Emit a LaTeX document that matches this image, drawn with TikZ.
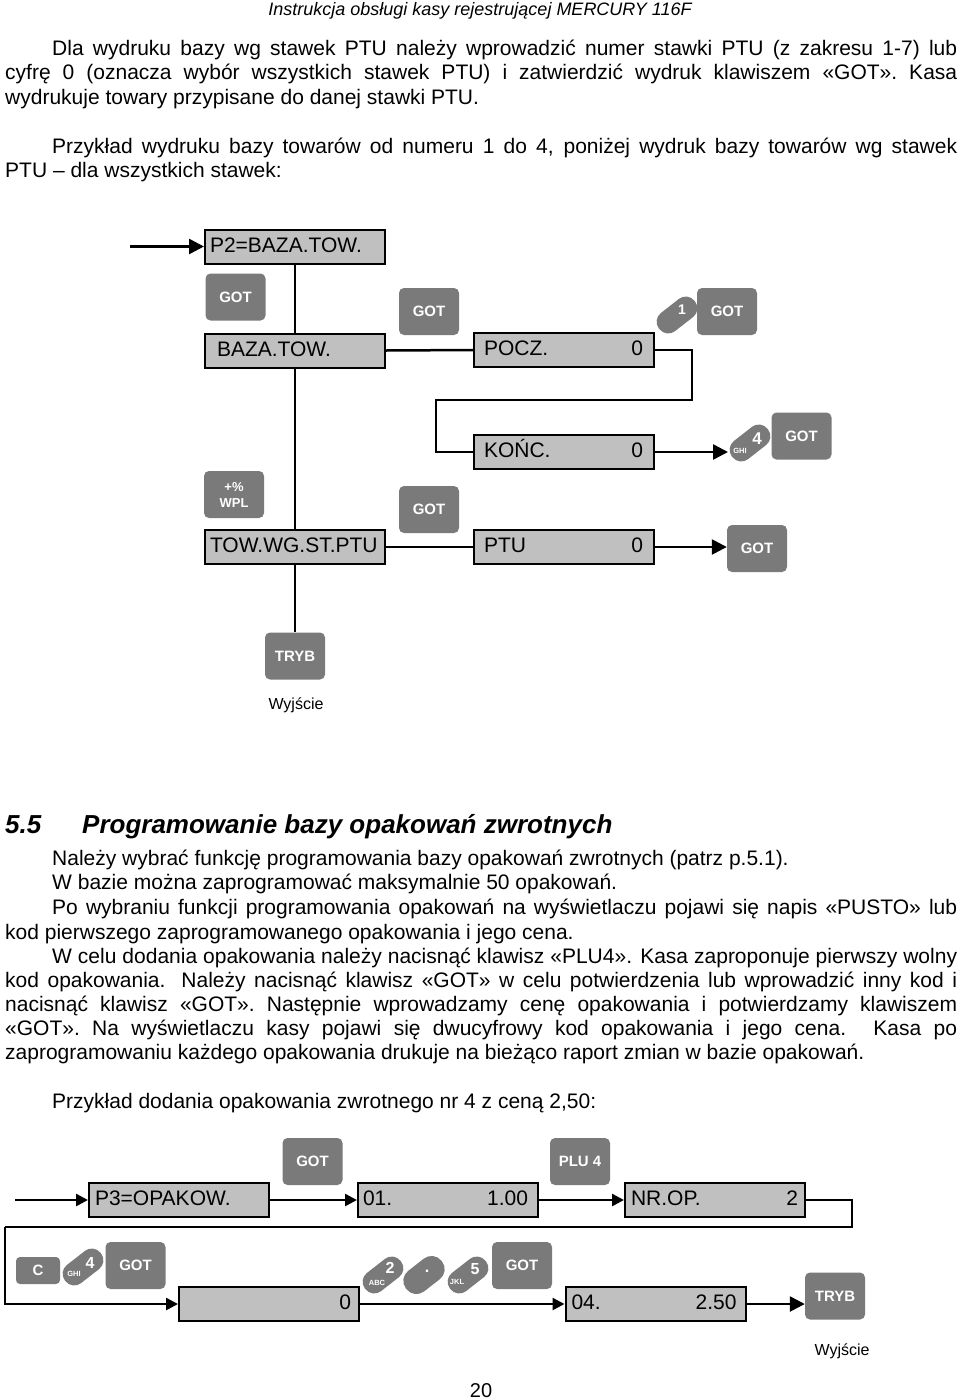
\documentclass[tikz,border=0pt]{standalone}
\usepackage{fontspec}
\setmainfont{Liberation Sans}
\usetikzlibrary{arrows.meta}
\definecolor{keyg}{HTML}{7A7A7A}
\definecolor{dispg}{HTML}{C0C0C0}
\newcommand{\bodyf}{\fontsize{21}{24.5}\selectfont}
\newcommand{\dispf}{\fontsize{21}{24}\selectfont}
\newcommand{\keyf}{\bfseries\fontsize{15}{17}\selectfont}
\newcommand{\jl}[2]{\makebox[#1pt][s]{#2}}
\begin{document}
\begin{tikzpicture}[x=1pt,y=-1pt,
  txt/.style={anchor=base west, inner sep=0pt, font=\bodyf},
  disp/.style={draw=black, line width=2pt, fill=dispg, minimum width=180pt, minimum height=34pt,
    inner sep=0pt, font=\dispf, text height=15pt, text depth=4pt},
  key/.style={fill=keyg, rounded corners=5pt, minimum width=60pt, minimum height=47pt,
    inner sep=0pt, text=white, font=\keyf, align=center},
  pill/.style={fill=keyg, rounded corners=11pt, minimum width=45pt, minimum height=23pt,
    inner sep=0pt, rotate=38},
  pilltxt/.style={text=white, inner sep=0pt, font=\bfseries\fontsize{16}{18}\selectfont},
  pillsub/.style={text=white, inner sep=0pt, font=\bfseries\fontsize{7.5}{9}\selectfont},
  conn/.style={draw=black, line width=2.5pt},
  arr/.style={conn, -{Triangle[length=15pt,width=15pt,fill=black]}},
  arrs/.style={conn, -{Triangle[length=12pt,width=12pt,fill=black]}},
  lbl/.style={inner sep=0pt, font=\fontsize{16}{18}\selectfont}]
\useasboundingbox (0,0) rectangle (960,1400);

% header
\node[anchor=base, inner sep=0pt, font=\itshape\fontsize{18}{20}\selectfont] (hdr) at (480,16) {Instrukcja obsługi kasy rejestrującej MERCURY 116F};

% paragraphs
\node[txt] (p1a) at (52,55) {\jl{905}{Dla wydruku bazy wg stawek PTU należy wprowadzić numer stawki PTU (z zakresu 1-7) lub}};
\node[txt] (p1b) at (5,79) {\jl{952}{cyfrę 0 (oznacza wybór wszystkich stawek PTU) i zatwierdzić wydruk klawiszem «GOT». Kasa}};
\node[txt] (p1c) at (5,104) {wydrukuje towary przypisane do danej stawki PTU.};
\node[txt] (p2a) at (52,153) {\jl{905}{Przykład wydruku bazy towarów od numeru 1 do 4, poniżej wydruk bazy towarów wg stawek}};
\node[txt] (p2b) at (5,177) {PTU – dla wszystkich stawek:};

% ---------- diagram 1 ----------
\node[disp] (P2) at (295,246.5) {\makebox[180pt][l]{\hspace{5pt}P2=BAZA.TOW.}};
\node[disp] (BAZA) at (295,350.5) {\makebox[180pt][l]{\hspace{12pt}BAZA.TOW.}};
\node[disp] (POCZ) at (564,350) {\makebox[180pt]{\hspace{10pt}POCZ.\hfill 0\hspace{11pt}}};
\node[disp] (KONC) at (564,452) {\makebox[180pt]{\hspace{10pt}KOŃC.\hfill 0\hspace{11pt}}};
\node[disp] (TOW) at (295,547) {\makebox[180pt][l]{\hspace{5pt}TOW.WG.ST.PTU}};
\node[disp] (PTU) at (564,547) {\makebox[180pt]{\hspace{10pt}PTU\hfill 0\hspace{11pt}}};

\node[key] (got1) at (235.5,297) {GOT};
\node[key] (got2) at (429,311.5) {GOT};
\node[key] (got3) at (727,311.5) {GOT};
\node[key] (got4) at (801.5,436) {GOT};
\node[key, font=\bfseries\fontsize{13}{16}\selectfont] (wpl) at (234,494.5) {+\%\\WPL};
\node[key] (got5) at (429,509.5) {GOT};
\node[key] (got6) at (757,548.5) {GOT};
\node[key] (tryb1) at (295,656) {TRYB};
\node[lbl] (wy1) at (296,705) {Wyjście};

\node[pill] (k1) at (677,315) {};
\node[pilltxt, font=\bfseries\fontsize{14}{16}\selectfont] (k1t) at (682,310) {1};
\node[pill] (k4) at (750,443) {};
\node[pilltxt, font=\bfseries\fontsize{17}{19}\selectfont] (k4t) at (757,439) {4};
\node[pillsub] (k4s) at (740,451) {GHI};

\coordinate (start1) at (130,246.5);
\coordinate (t1) at (692,400);
\coordinate (t2) at (436,400);
\coordinate (tip4) at (728,452);
\coordinate (tip6) at (PTU.east -| got6.west);

\draw[arr] (start1) -- (P2.west);
\draw[conn] (P2.south) -- (BAZA.north);
\draw[conn] (BAZA.south) -- (TOW.north);
\draw[conn] (TOW.south) -- (tryb1.north);
\draw[conn] (BAZA.east) -- (POCZ.west);
\draw[conn] (POCZ.east) -| (t1) -- (t2) |- (KONC.west);
\draw[arr] (KONC.east) -- (tip4);
\draw[conn] (TOW.east) -- (PTU.west);
\draw[arr] (PTU.east) -- (tip6);

% heading
\node[anchor=base west, inner sep=0pt, font=\bfseries\itshape\fontsize{26}{28}\selectfont] (h55) at (5,833) {5.5};
\node[anchor=base west, inner sep=0pt, font=\bfseries\itshape\fontsize{26}{28}\selectfont] (htitle) at (82,833) {Programowanie bazy opakowań zwrotnych};

\node[txt] (q1) at (52,865) {Należy wybrać funkcję programowania bazy opakowań zwrotnych (patrz p.5.1).};
\node[txt] (q2) at (52,889) {W bazie można zaprogramować maksymalnie 50 opakowań.};
\node[txt] (q3) at (52,914) {\jl{905}{Po wybraniu funkcji programowania opakowań na wyświetlaczu pojawi się napis «PUSTO» lub}};
\node[txt] (q4) at (5,939) {kod pierwszego zaprogramowanego opakowania i jego cena.};
\node[txt] (q5) at (52,963) {\jl{905}{W celu dodania opakowania należy nacisnąć klawisz «PLU4». Kasa zaproponuje pierwszy wolny}};
\node[txt] (q6) at (5,987) {\jl{952}{kod opakowania. Należy nacisnąć klawisz «GOT» w celu potwierdzenia lub wprowadzić inny kod i}};
\node[txt] (q7) at (5,1011) {\jl{952}{nacisnąć klawisz «GOT». Następnie wprowadzamy cenę opakowania i potwierdzamy klawiszem}};
\node[txt] (q8) at (5,1035) {\jl{952}{«GOT». Na wyświetlaczu kasy pojawi się dwucyfrowy kod opakowania i jego cena. Kasa po}};
\node[txt] (q9) at (5,1059) {zaprogramowaniu każdego opakowania drukuje na bieżąco raport zmian w bazie opakowań.};
\node[txt] (q10) at (52,1108) {Przykład dodania opakowania zwrotnego nr 4 z ceną 2,50:};

% ---------- diagram 2 ----------
\node[disp] (P3) at (179,1200) {\makebox[180pt][l]{\hspace{6pt}P3=OPAKOW.}};
\node[disp] (O1) at (448,1200) {\makebox[180pt]{\hspace{5pt}01.\hfill 1.00\hspace{10pt}}};
\node[disp] (NR) at (715,1200) {\makebox[180pt]{\hspace{6pt}NR.OP.\hfill 2\hspace{7pt}}};
\node[disp] (Z) at (269,1304) {\makebox[180pt]{\hfill 0\hspace{8pt}}};
\node[disp] (Z4) at (655.5,1304) {\makebox[180pt]{\hspace{6pt}04.\hfill 2.50\hspace{9pt}}};

\node[key] (got7) at (312.5,1161.5) {GOT};
\node[key] (plu4) at (580,1161.5) {PLU 4};
\node[key, minimum width=44pt, minimum height=27pt, rounded corners=4pt] (ckey) at (38,1270.5) {C};
\node[key] (got8) at (135.5,1265.5) {GOT};
\node[key] (got9) at (522,1265.5) {GOT};
\node[key] (tryb2) at (835,1296) {TRYB};
\node[lbl] (wy2) at (842,1351) {Wyjście};

\node[pill] (p4) at (83,1267) {};
\node[pilltxt] (p4t) at (90,1263) {4};
\node[pillsub] (p4s) at (74,1274) {GHI};
\node[pill] (p2) at (383,1275) {};
\node[pilltxt] (p2t) at (390,1268) {2};
\node[pillsub] (p2s) at (377,1283) {ABC};
\node[pill, minimum height=26pt, rounded corners=12.5pt] (pd) at (424,1275) {};
\node[pilltxt] (pdt) at (427,1271) {.};
\node[pill] (p5) at (468,1275) {};
\node[pilltxt] (p5t) at (475,1269) {5};
\node[pillsub] (p5s) at (457,1282) {JKL};

\coordinate (start2) at (15,1200);
\coordinate (u1) at (852,1227);
\coordinate (u2) at (5,1227);
\coordinate (tipT) at (Z4.east -| tryb2.west);

\draw[arrs] (start2) -- (P3.west);
\draw[arrs] (P3.east) -- (O1.west);
\draw[arrs] (O1.east) -- (NR.west);
\draw[conn] (NR.east) -| (u1) -- (u2);
\draw[arrs] (u2) |- (Z.west);
\draw[arrs] (Z.east) -- (Z4.west);
\draw[arr] (Z4.east) -- (tipT);

\node[anchor=base, inner sep=0pt, font=\fontsize{20}{22}\selectfont] (pg) at (481,1397) {20};
\end{tikzpicture}
\end{document}
